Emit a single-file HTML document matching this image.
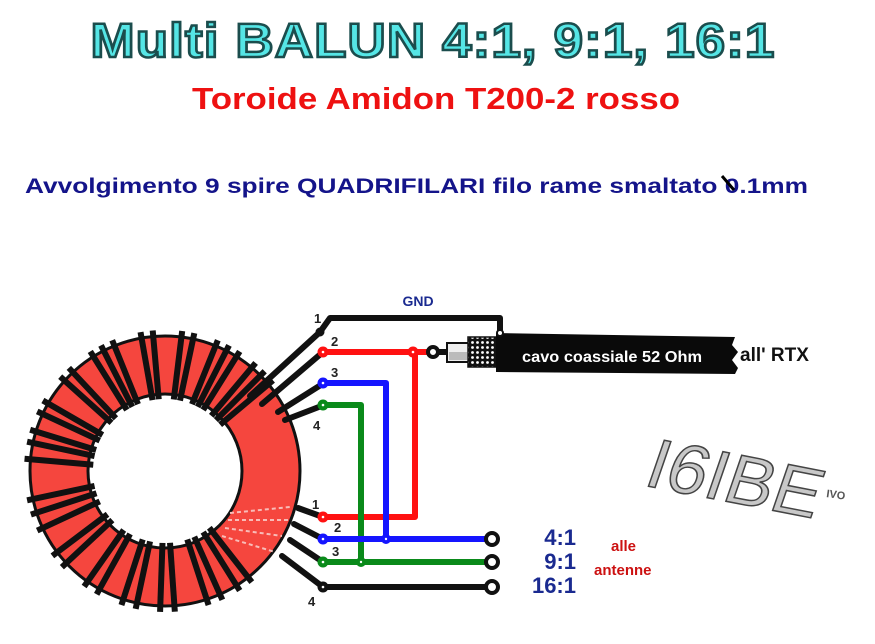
<!DOCTYPE html>
<html><head><meta charset="utf-8"><style>
html,body{margin:0;padding:0;background:#fff;width:875px;height:644px;overflow:hidden}
svg{display:block}
</style></head><body>
<svg width="875" height="644" viewBox="0 0 875 644" xmlns="http://www.w3.org/2000/svg" font-family="Liberation Sans, sans-serif">
<!-- titles -->
<text x="433" y="57" text-anchor="middle" font-size="48" font-weight="bold" fill="#55e6e6" stroke="#1b4d4d" stroke-width="2.5" letter-spacing="1" textLength="685" lengthAdjust="spacingAndGlyphs">Multi BALUN  4:1, 9:1, 16:1</text>
<text x="436" y="109" text-anchor="middle" font-size="31" font-weight="bold" fill="#ee1111" textLength="488" lengthAdjust="spacingAndGlyphs">Toroide Amidon T200-2 rosso</text>
<text x="25" y="193" font-size="21" font-weight="bold" fill="#14148a" textLength="783" lengthAdjust="spacingAndGlyphs">Avvolgimento 9 spire QUADRIFILARI filo rame smaltato 0.1mm</text>
<line x1="722" y1="176" x2="734" y2="190" stroke="#000" stroke-width="3"/>

<!-- toroid -->
<circle cx="165" cy="471" r="106" fill="none" stroke="#f5463e" stroke-width="58"/>
<circle cx="165" cy="471" r="135" fill="none" stroke="#111" stroke-width="3"/>
<circle cx="165" cy="471" r="77" fill="none" stroke="#111" stroke-width="3"/>
<g stroke="#f8bcb8" stroke-width="2" stroke-dasharray="4 3">
<line x1="230" y1="513" x2="290" y2="507"/><line x1="228" y1="520" x2="288" y2="520"/><line x1="225" y1="528" x2="282" y2="536"/><line x1="222" y1="536" x2="275" y2="552"/>
</g>
<g stroke="#111" stroke-width="6">
<line x1="237" y1="471" x2="306" y2="471" transform="rotate(-40 165 471)"/>
<line x1="237" y1="471" x2="306" y2="471" transform="rotate(-45 165 471)"/>
<line x1="237" y1="471" x2="306" y2="471" transform="rotate(-50 165 471)"/>
<line x1="237" y1="471" x2="306" y2="471" transform="rotate(-58 165 471)"/>
<line x1="237" y1="471" x2="306" y2="471" transform="rotate(-63 165 471)"/>
<line x1="237" y1="471" x2="306" y2="471" transform="rotate(-68 165 471)"/>
<line x1="237" y1="471" x2="306" y2="471" transform="rotate(-78 165 471)"/>
<line x1="237" y1="471" x2="306" y2="471" transform="rotate(-83 165 471)"/>
<line x1="237" y1="471" x2="306" y2="471" transform="rotate(-95 165 471)"/>
<line x1="237" y1="471" x2="306" y2="471" transform="rotate(-100 165 471)"/>
<line x1="237" y1="471" x2="306" y2="471" transform="rotate(-112 165 471)"/>
<line x1="237" y1="471" x2="306" y2="471" transform="rotate(-117 165 471)"/>
<line x1="237" y1="471" x2="306" y2="471" transform="rotate(-122 165 471)"/>
<line x1="237" y1="471" x2="306" y2="471" transform="rotate(-133 165 471)"/>
<line x1="237" y1="471" x2="306" y2="471" transform="rotate(-138 165 471)"/>
<line x1="237" y1="471" x2="306" y2="471" transform="rotate(-150 165 471)"/>
<line x1="237" y1="471" x2="306" y2="471" transform="rotate(-155 165 471)"/>
<line x1="237" y1="471" x2="306" y2="471" transform="rotate(-163 165 471)"/>
<line x1="237" y1="471" x2="306" y2="471" transform="rotate(-168 165 471)"/>
<line x1="237" y1="471" x2="306" y2="471" transform="rotate(-175 165 471)"/>
<line x1="237" y1="471" x2="306" y2="471" transform="rotate(168 165 471)"/>
<line x1="237" y1="471" x2="306" y2="471" transform="rotate(162 165 471)"/>
<line x1="237" y1="471" x2="306" y2="471" transform="rotate(155 165 471)"/>
<line x1="237" y1="471" x2="306" y2="471" transform="rotate(143 165 471)"/>
<line x1="237" y1="471" x2="306" y2="471" transform="rotate(137 165 471)"/>
<line x1="237" y1="471" x2="306" y2="471" transform="rotate(125 165 471)"/>
<line x1="237" y1="471" x2="306" y2="471" transform="rotate(119 165 471)"/>
<line x1="237" y1="471" x2="306" y2="471" transform="rotate(108 165 471)"/>
<line x1="237" y1="471" x2="306" y2="471" transform="rotate(102 165 471)"/>
<line x1="237" y1="471" x2="306" y2="471" transform="rotate(92 165 471)"/>
<line x1="237" y1="471" x2="306" y2="471" transform="rotate(86 165 471)"/>
<line x1="237" y1="471" x2="306" y2="471" transform="rotate(72 165 471)"/>
<line x1="237" y1="471" x2="306" y2="471" transform="rotate(66 165 471)"/>
<line x1="237" y1="471" x2="306" y2="471" transform="rotate(58 165 471)"/>
<line x1="237" y1="471" x2="306" y2="471" transform="rotate(52 165 471)"/>
</g>
<g stroke="#111" stroke-width="6" stroke-linecap="round">
<line x1="320" y1="332" x2="250" y2="396"/>
<line x1="323" y1="352" x2="262" y2="404"/>
<line x1="324" y1="383" x2="278" y2="412"/>
<line x1="324" y1="405" x2="285" y2="420"/>
<line x1="323" y1="517" x2="298" y2="508"/>
<line x1="323" y1="539" x2="294" y2="524"/>
<line x1="323" y1="562" x2="290" y2="540"/>
<line x1="323" y1="587" x2="282" y2="556"/>
</g>

<!-- wires -->
<g fill="none" stroke-width="6" stroke-linejoin="round">
<polyline points="320,332 330,318 500,318 500,334" stroke="#111"/>
<polyline points="323,352 432,352" stroke="#ff1111"/>
<polyline points="323,517 415,517 415,352" stroke="#ff1111"/>
<polyline points="323,383 386,383 386,539" stroke="#1515ff"/>
<polyline points="323,405 361,405 361,562" stroke="#0a8a1a"/>
<line x1="323" y1="539" x2="492" y2="539" stroke="#1515ff"/>
<line x1="323" y1="562" x2="492" y2="562" stroke="#0a8a1a"/>
<line x1="323" y1="587" x2="492" y2="587" stroke="#111"/>
</g>
<g stroke-width="2" fill="#fff">
<circle cx="320" cy="332" r="3.5" stroke="#111" fill="#111"/>
<circle cx="323" cy="352" r="4.5" fill="#ff1111" stroke="#ff1111"/><circle cx="323" cy="352" r="1.3" fill="#fff" stroke="none"/>
<circle cx="413" cy="352" r="4.5" fill="#ff1111" stroke="#ff1111"/><circle cx="413" cy="352" r="1.3" fill="#fff" stroke="none"/>
<circle cx="323" cy="383" r="4.5" fill="#1515ff" stroke="#1515ff"/><circle cx="323" cy="383" r="1.3" fill="#fff" stroke="none"/>
<circle cx="323" cy="405" r="4.5" fill="#0a8a1a" stroke="#0a8a1a"/><circle cx="323" cy="405" r="1.3" fill="#fff" stroke="none"/>
<circle cx="323" cy="517" r="4.5" fill="#ff1111" stroke="#ff1111"/><circle cx="323" cy="517" r="1.3" fill="#fff" stroke="none"/>
<circle cx="323" cy="539" r="4.5" fill="#1515ff" stroke="#1515ff"/><circle cx="323" cy="539" r="1.3" fill="#fff" stroke="none"/>
<circle cx="386" cy="539" r="4" fill="#1515ff" stroke="#1515ff"/><circle cx="386" cy="539" r="1.2" fill="#fff" stroke="none"/>
<circle cx="323" cy="562" r="4.5" fill="#0a8a1a" stroke="#0a8a1a"/><circle cx="323" cy="562" r="1.3" fill="#fff" stroke="none"/>
<circle cx="361" cy="562" r="4" fill="#0a8a1a" stroke="#0a8a1a"/><circle cx="361" cy="562" r="1.2" fill="#fff" stroke="none"/>
<circle cx="323" cy="587" r="4.5" fill="#111" stroke="#111"/><circle cx="323" cy="587" r="1.3" fill="#fff" stroke="none"/>
<circle cx="492" cy="539" r="6" stroke="#111" stroke-width="4"/>
<circle cx="492" cy="562" r="6" stroke="#111" stroke-width="4"/>
<circle cx="492" cy="587" r="6" stroke="#111" stroke-width="4"/>
</g>

<!-- coax -->
<circle cx="433" cy="352" r="5" fill="#fff" stroke="#111" stroke-width="4"/>
<rect x="438" y="349" width="10" height="6" fill="#111"/>
<rect x="447" y="343" width="22" height="19" fill="#eee" stroke="#111" stroke-width="2"/>
<rect x="449" y="352" width="18" height="8" fill="#bbb"/>
<defs><pattern id="br" width="5" height="5" patternUnits="userSpaceOnUse"><rect width="5" height="5" fill="#111"/><circle cx="2.5" cy="2.5" r="1.4" fill="#fff"/></pattern></defs>
<rect x="468" y="337" width="30" height="30" fill="url(#br)" stroke="#111" stroke-width="1.5"/>
<polygon points="496,333 735,337 732,345 738,352 732,360 738,368 735,374 496,372" fill="#0a0a0a"/>
<circle cx="500" cy="333" r="3" fill="#fff" stroke="#111" stroke-width="2"/>
<text x="612" y="362" text-anchor="middle" font-size="16" font-weight="bold" fill="#fff" textLength="180" lengthAdjust="spacingAndGlyphs">cavo coassiale  52 Ohm</text>
<text x="740" y="361" font-size="19" font-weight="bold" fill="#111">all' RTX</text>
<text x="418" y="306" text-anchor="middle" font-size="14" font-weight="bold" fill="#1a2a90">GND</text>

<!-- pin labels -->
<g font-size="13" font-weight="bold" fill="#222">
<text x="314" y="323">1</text><text x="331" y="346">2</text><text x="331" y="377">3</text><text x="313" y="430">4</text>
<text x="312" y="509">1</text><text x="334" y="532">2</text><text x="332" y="556">3</text><text x="308" y="606">4</text>
</g>

<!-- ratios -->
<g font-size="22" font-weight="bold" fill="#1a2a90" text-anchor="end">
<text x="576" y="545">4:1</text><text x="576" y="569">9:1</text><text x="576" y="593">16:1</text>
</g>
<g font-size="15" font-weight="bold" fill="#cc1111">
<text x="611" y="551">alle</text><text x="594" y="575">antenne</text>
</g>

<!-- I6IBE -->
<g transform="translate(642,485) rotate(11) skewX(-8)">
<text x="0" y="0" font-size="70" fill="#c8c8c8" stroke="#444" stroke-width="1.5" textLength="175" lengthAdjust="spacingAndGlyphs">I6IBE</text>
</g>
<text x="826" y="497" font-size="11" font-weight="bold" fill="#555" transform="rotate(8 826 497)">IVO</text>
</svg>
</body></html>
